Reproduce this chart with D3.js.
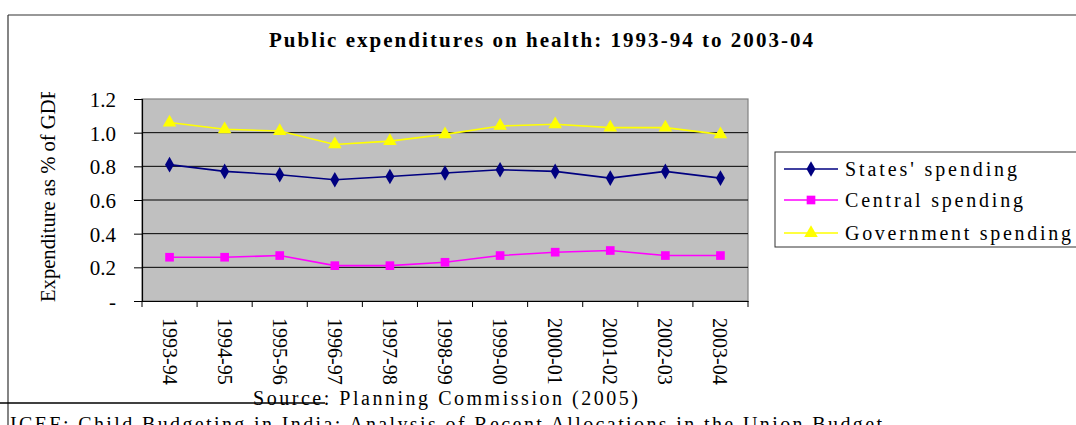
<!DOCTYPE html>
<html><head><meta charset="utf-8">
<script src="https://cdn.jsdelivr.net/npm/d3@7"></script>
<style>html,body{margin:0;padding:0;background:#fff;overflow:hidden}
svg text{font-family:"Liberation Serif","Times New Roman",Times,serif;}</style>
</head><body>
<script>
const categories = ["1993-94","1994-95","1995-96","1996-97","1997-98","1998-99","1999-00","2000-01","2001-02","2002-03","2003-04"];
const statesSpending = [0.81,0.77,0.75,0.72,0.74,0.76,0.78,0.77,0.73,0.77,0.73];
const centralSpending = [0.26,0.26,0.27,0.21,0.21,0.23,0.27,0.29,0.30,0.27,0.27];
const governmentSpending = [1.06,1.02,1.01,0.93,0.95,0.99,1.04,1.05,1.03,1.03,0.99];
const yTicks = [0,0.2,0.4,0.6,0.8,1.0,1.2];
const yTickLabels = ["-","0.2","0.4","0.6","0.8","1.0","1.2"];
const seriesNames = ["States' spending","Central spending","Government spending"];
const seriesColors = ["#000080","#FF00FF","#FFFF00"];
const seriesShapes = [d3.symbolDiamond, d3.symbolSquare, d3.symbolTriangle];
const seriesSizes = [70, 75, 80];

(function(){
const W = 1076, H = 425;
const svg = d3.select("body").append("svg").attr("width",W).attr("height",H);

svg.append("line").attr("x1",8).attr("x2",W).attr("y1",15).attr("y2",15).attr("stroke","#333").attr("stroke-width",1.2);
svg.append("line").attr("x1",8).attr("x2",8).attr("y1",15).attr("y2",H).attr("stroke","#333").attr("stroke-width",1.2);

svg.append("text").attr("x",269).attr("y",47)
  .attr("font-weight","bold").attr("font-size",21)
  .attr("textLength",544).attr("lengthAdjust","spacing")
  .text("Public expenditures on health: 1993-94 to 2003-04");

const pLeft=142, pRight=748, pTop=99, pBottom=301;
const x = d3.scaleBand().domain(categories).range([pLeft,pRight]);
const y = d3.scaleLinear().domain([0,1.2]).range([pBottom,pTop]);

svg.append("rect").attr("x",pLeft).attr("y",pTop).attr("width",pRight-pLeft).attr("height",pBottom-pTop)
  .attr("fill","#C0C0C0").attr("stroke","#808080").attr("stroke-width",1.2);

svg.append("g").selectAll("line").data(yTicks.filter(d=>d>0 && d<1.2)).join("line")
  .attr("x1",pLeft).attr("x2",pRight).attr("y1",d=>y(d)).attr("y2",d=>y(d))
  .attr("stroke","#000").attr("stroke-width",1);

const yAxis = d3.axisLeft(y).tickValues(yTicks).tickSize(8).tickPadding(18)
  .tickFormat((d,i)=>yTickLabels[i]);
const gy = svg.append("g").attr("transform",`translate(${pLeft},0)`).call(yAxis);
gy.attr("font-family",null);
gy.select(".domain").attr("stroke","#000").attr("stroke-width",1.2);
gy.selectAll(".tick line").attr("stroke","#000");
gy.selectAll("text").attr("font-size",21).attr("fill","#000").attr("dy","0.35em");

const gx = svg.append("g").attr("transform",`translate(0,${pBottom})`)
  .call(d3.axisBottom(x).tickSize(0).tickFormat(""));
gx.select(".domain").attr("stroke","#000").attr("stroke-width",1.2);
const bounds = categories.map(c=>x(c)).concat([x(categories[categories.length-1])+x.bandwidth()]);
svg.append("g").selectAll("line").data(bounds).join("line")
  .attr("x1",d=>d).attr("x2",d=>d).attr("y1",pBottom).attr("y2",pBottom+6).attr("stroke","#000");
svg.append("g").selectAll("text").data(categories).join("text")
  .attr("transform",d=>`translate(${x(d)+x.bandwidth()/2},318) rotate(90)`)
  .attr("dy","0.35em").attr("font-size",20)
  .text(d=>d);

svg.append("defs").append("clipPath").attr("id","ytclip").append("rect")
  .attr("x",0).attr("y",92).attr("width",120).attr("height",300);
svg.append("g").attr("clip-path","url(#ytclip)").append("text")
  .attr("transform","translate(48,302) rotate(-90)").attr("dy","0.35em")
  .attr("font-size",20)
  .attr("textLength",214).attr("lengthAdjust","spacingAndGlyphs")
  .text("Expenditure as % of GDP");

const allSeries = [statesSpending, centralSpending, governmentSpending];
const line = d3.line().x((d,i)=>x(categories[i])+x.bandwidth()/2).y(d=>y(d));
allSeries.forEach((vals,k)=>{
  svg.append("path").datum(vals).attr("d",line).attr("fill","none")
    .attr("stroke",seriesColors[k]).attr("stroke-width",1.6);
  svg.append("g").selectAll("path").data(vals).join("path")
    .attr("d",d3.symbol().type(seriesShapes[k]).size(seriesSizes[k]))
    .attr("transform",(d,i)=>`translate(${x(categories[i])+x.bandwidth()/2},${y(d)})`)
    .attr("fill",seriesColors[k]);
});

svg.append("rect").attr("x",775).attr("y",152).attr("width",W-775+5).attr("height",95)
  .attr("fill","#fff").attr("stroke","#333").attr("stroke-width",1);
const legRows = [169,200,233];
const legLens = [172,178,226];
seriesNames.forEach((n,k)=>{
  const g = svg.append("g").attr("transform",`translate(0,${legRows[k]})`);
  g.append("line").attr("x1",784).attr("x2",838).attr("y1",0).attr("y2",0)
    .attr("stroke",seriesColors[k]).attr("stroke-width",1.6);
  g.append("path").attr("d",d3.symbol().type(seriesShapes[k]).size(seriesSizes[k]))
    .attr("transform","translate(811,0)").attr("fill",seriesColors[k]);
  g.append("text").attr("x",845).attr("dy","0.35em").attr("font-size",20)
    .attr("textLength",legLens[k]).attr("lengthAdjust","spacing").text(n);
});

svg.append("text").attr("x",253).attr("y",405).attr("font-size",20)
  .attr("textLength",385).attr("lengthAdjust","spacing")
  .text("Source: Planning Commission (2005)");
svg.append("line").attr("x1",0).attr("x2",325).attr("y1",403).attr("y2",403).attr("stroke","#000").attr("stroke-width",1.5);
svg.append("text").attr("x",10).attr("y",431).attr("font-size",20)
  .attr("textLength",872).attr("lengthAdjust","spacing")
  .text("ICEF: Child Budgeting in India: Analysis of Recent Allocations in the Union Budget");
})();
</script>
</body></html>
